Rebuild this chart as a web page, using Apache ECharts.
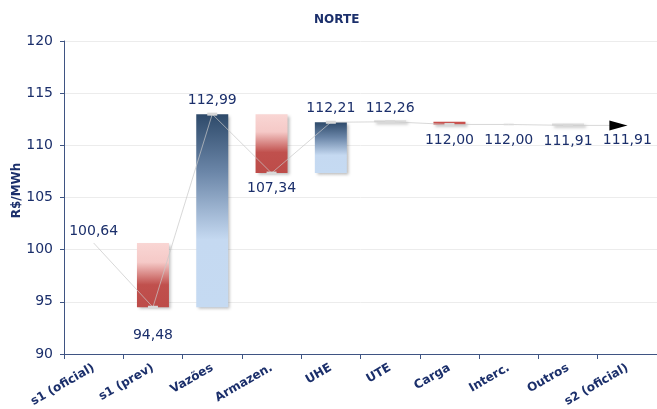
<!DOCTYPE html>
<html>
<head>
<meta charset="utf-8">
<script src="https://cdn.jsdelivr.net/npm/echarts@6/dist/echarts.min.js"></script>
<style>
html,body{margin:0;padding:0;background:#fff;}
#chart{width:657px;height:409px;}
</style>
</head>
<body>
<div id="chart"></div>
<script>
// ---- data ----
var categories = ['s1 (oficial)', 's1 (prev)', 'Vazões', 'Armazen.', 'UHE', 'UTE', 'Carga', 'Interc.', 'Outros', 's2 (oficial)'];
var values = [100.64, 94.48, 112.99, 107.34, 112.21, 112.26, 112.00, 112.00, 111.91, 111.91];
var yTicks = { min: 90, max: 120, interval: 5 };
var chartTitle = 'NORTE';
var yName = 'R$/MWh';

// ---- derived waterfall pieces ----
var navy = '#1b2f6b';
var n = values.length;
var baseData = [], deltaData = [];
for (var i = 0; i < n; i++) {
  if (i === 0 || i === n - 1) { baseData.push('-'); deltaData.push('-'); continue; }
  var prev = values[i - 1], cur = values[i];
  var d = Math.abs(cur - prev);
  if (d < 1e-9) { baseData.push('-'); deltaData.push('-'); continue; }
  var lo = Math.min(prev, cur);
  var color;
  if (d < 0.2) {
    color = '#dcdcdc';
  } else if (cur < prev) {
    color = d < 1 ? '#c9504d' : new echarts.graphic.LinearGradient(0, 0, 0, 1, [
      { offset: 0, color: '#f9d6d4' }, { offset: 0.3, color: '#f5c9c7' },
      { offset: 0.65, color: '#c0504d' }, { offset: 1, color: '#bd4c49' }]);
  } else {
    color = new echarts.graphic.LinearGradient(0, 0, 0, 1, [
      { offset: 0, color: '#2e4a6a' }, { offset: 0.3, color: '#6b86a8' },
      { offset: 0.65, color: '#c5d9f1' }, { offset: 1, color: '#c5daf2' }]);
  }
  baseData.push(lo);
  deltaData.push({ value: d, itemStyle: { color: color } });
}

var lineData = values.map(function (v, i) {
  var up = (i === 0) || (v > values[i - 1]);
  var item = {
    value: v,
    label: {
      position: up ? 'top' : 'bottom',
      distance: up ? 5 : (i === 1 ? 20 : 7)
    }
  };
  if (i === 0) {
    item.symbolSize = 0.01;
  } else if (i > 0 && i < n - 1 && Math.abs(v - values[i - 1]) < 1e-9) {
    item.itemStyle = { color: 'rgba(220,220,220,0.35)' };
  } else if (i === n - 1) {
    item.symbol = 'path://M0,0 L18,5 L0,10 Z';
    item.symbolSize = [18, 10];
    item.symbolOffset = [-9, 0];
    item.itemStyle = { color: '#000', opacity: 1 };
    item.label.distance = 3;
    item.label.offset = [9, 0];
  }
  return item;
});

var chart = echarts.init(document.getElementById('chart'), null, { renderer: 'canvas' });
chart.setOption({
  animation: false,
  backgroundColor: '#ffffff',
  textStyle: { fontFamily: 'DejaVu Sans' },
  title: {
    text: chartTitle, left: 309, top: 9,
    textStyle: { fontFamily: 'DejaVu Sans', fontSize: 12, fontWeight: 'bold', color: navy }
  },
  grid: { left: 64, right: 0, top: 41, bottom: 55, containLabel: false, outerBoundsMode: 'none' },
  xAxis: {
    type: 'category',
    data: categories,
    axisLine: { lineStyle: { color: '#3f5483', width: 1 } },
    axisTick: { show: true, length: 5, lineStyle: { color: '#3f5483' } },
    axisLabel: {
      rotate: 30, interval: 0, margin: 13,
      fontFamily: 'DejaVu Sans', fontSize: 12, fontWeight: 'bold', color: navy
    },
    splitLine: { show: false }
  },
  yAxis: {
    type: 'value',
    min: yTicks.min, max: yTicks.max, interval: yTicks.interval,
    name: yName, nameLocation: 'middle', nameGap: 41, nameRotate: 90,
    nameMoveOverlap: false,
    nameTextStyle: { fontFamily: 'DejaVu Sans', fontSize: 12, fontWeight: 'bold', color: navy, padding: [0, 0, 0, 14] },
    axisLine: { show: true, lineStyle: { color: '#3f5483', width: 1 } },
    axisTick: { show: true, length: 4, lineStyle: { color: '#3f5483' } },
    axisLabel: { fontFamily: 'DejaVu Sans', fontSize: 14, color: navy, margin: 11 },
    splitLine: { show: true, lineStyle: { color: '#ececec', width: 1 } }
  },
  series: [
    {
      type: 'bar', stack: 'wf', data: baseData, barWidth: 32,
      itemStyle: { color: 'transparent' }, silent: true
    },
    {
      type: 'bar', stack: 'wf', data: deltaData, barWidth: 32, barMinHeight: 2,
      itemStyle: {
        shadowColor: 'rgba(0,0,0,0.28)', shadowBlur: 3, shadowOffsetX: 2, shadowOffsetY: 2
      }
    },
    {
      type: 'line', data: lineData, z: 5,
      symbol: 'rect', symbolSize: [10, 3],
      lineStyle: { color: 'rgba(200,200,200,0.7)', width: 1 },
      itemStyle: { color: '#d8d8d8' },
      label: {
        show: true, fontFamily: 'DejaVu Sans', fontSize: 14, color: navy,
        formatter: function (p) { return p.value.toFixed(2).replace('.', ','); }
      }
    }
  ]
});
</script>
</body>
</html>
